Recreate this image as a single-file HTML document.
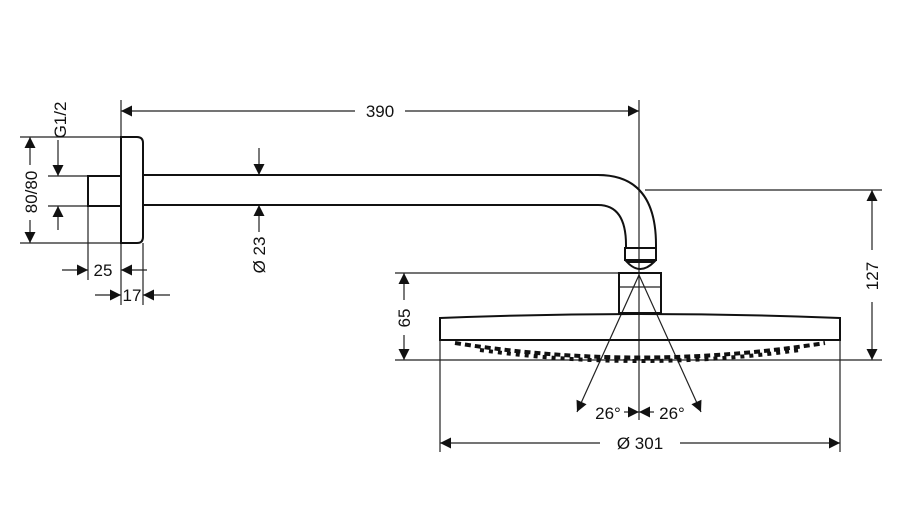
<!DOCTYPE html>
<html><head><meta charset="utf-8"><style>
html,body{margin:0;padding:0;background:#fff}
text{font-family:"Liberation Sans",sans-serif;font-size:17px;fill:#111}
</style></head><body>
<svg width="900" height="521" viewBox="0 0 900 521" xmlns="http://www.w3.org/2000/svg">
<defs>
<marker id="a" viewBox="0 0 10 10" refX="10" refY="5" markerWidth="14" markerHeight="11" orient="auto-start-reverse" markerUnits="userSpaceOnUse"><path d="M0,0L10,5L0,10z" fill="#111"/></marker>
</defs>
<g stroke="#222" stroke-width="1.2" fill="none">
<line x1="121" y1="100" x2="121" y2="137"/>
<line x1="639" y1="100" x2="639" y2="420"/>
<line x1="20" y1="137" x2="121" y2="137"/>
<line x1="20" y1="243" x2="121" y2="243"/>
<line x1="48" y1="176" x2="88" y2="176"/>
<line x1="48" y1="206" x2="88" y2="206"/>
<line x1="88" y1="206" x2="88" y2="280"/>
<line x1="121" y1="243" x2="121" y2="305"/>
<line x1="143" y1="243" x2="143" y2="305"/>
<line x1="645" y1="190" x2="882" y2="190"/>
<line x1="395" y1="273" x2="620" y2="273"/>
<line x1="395" y1="360" x2="882" y2="360"/>
<line x1="440" y1="340" x2="440" y2="452"/>
<line x1="840" y1="340" x2="840" y2="452"/>
<line x1="619" y1="287" x2="661" y2="287"/>
<line x1="121" y1="111" x2="355" y2="111" marker-start="url(#a)"/>
<line x1="405" y1="111" x2="639" y2="111" marker-end="url(#a)"/>
<line x1="30" y1="137" x2="30" y2="165" marker-start="url(#a)"/>
<line x1="30" y1="220" x2="30" y2="243" marker-end="url(#a)"/>
<line x1="58" y1="140" x2="58" y2="176" marker-end="url(#a)"/>
<line x1="58" y1="230" x2="58" y2="206" marker-end="url(#a)"/>
<line x1="62" y1="270" x2="88" y2="270" marker-end="url(#a)"/>
<line x1="147" y1="270" x2="121" y2="270" marker-end="url(#a)"/>
<line x1="95" y1="295" x2="121" y2="295" marker-end="url(#a)"/>
<line x1="170" y1="295" x2="143" y2="295" marker-end="url(#a)"/>
<line x1="259" y1="148" x2="259" y2="175" marker-end="url(#a)"/>
<line x1="259" y1="232" x2="259" y2="205" marker-end="url(#a)"/>
<line x1="404" y1="300" x2="404" y2="273" marker-end="url(#a)"/>
<line x1="404" y1="335" x2="404" y2="360" marker-end="url(#a)"/>
<line x1="872" y1="250" x2="872" y2="190" marker-end="url(#a)"/>
<line x1="872" y1="302" x2="872" y2="360" marker-end="url(#a)"/>
<line x1="440" y1="443" x2="600" y2="443" marker-start="url(#a)"/>
<line x1="680" y1="443" x2="840" y2="443" marker-end="url(#a)"/>
<line x1="639" y1="275" x2="577" y2="412" marker-end="url(#a)"/>
<line x1="639" y1="275" x2="701" y2="412" marker-end="url(#a)"/>
<line x1="624" y1="412" x2="639" y2="412" marker-end="url(#a)"/>
<line x1="654" y1="412" x2="639" y2="412" marker-end="url(#a)"/>
</g>
<g stroke="#111" stroke-width="2" fill="none">
<path d="M121,137 H137 Q143,137 143,143 V237 Q143,243 137,243 H121 Z"/>
<rect x="88" y="176" width="33" height="30"/>
<path d="M143,175 H598 Q656,175 656,245 V248"/>
<path d="M143,205 H598 Q626,205 626,245 V248"/>
<rect x="625" y="248" width="31" height="12"/>
<path d="M627,262 Q640,276 654,262 Z"/>
<rect x="619" y="273" width="42" height="40"/>
<path d="M440,318 Q640,310 840,318 V340 H440 Z"/>
<path d="M455,343 Q640,372 825,343" stroke-width="4" stroke-dasharray="6,4"/>
<path d="M480,350 Q640,372 800,350" stroke-width="4" stroke-dasharray="4,5"/>
</g>
<text x="103" y="276" text-anchor="middle">25</text>
<text x="380" y="117" text-anchor="middle">390</text>
<text x="640" y="449" text-anchor="middle">Ø 301</text>
<text x="132" y="301" text-anchor="middle">17</text>
<text x="608" y="419" text-anchor="middle">26°</text>
<text x="672" y="419" text-anchor="middle">26°</text>
<text transform="translate(37,192) rotate(-90)" text-anchor="middle">80/80</text>
<text transform="translate(66,120) rotate(-90)" text-anchor="middle">G1/2</text>
<text transform="translate(265,255) rotate(-90)" text-anchor="middle">Ø 23</text>
<text transform="translate(410,318) rotate(-90)" text-anchor="middle">65</text>
<text transform="translate(878,276) rotate(-90)" text-anchor="middle">127</text>
</svg>
</body></html>
